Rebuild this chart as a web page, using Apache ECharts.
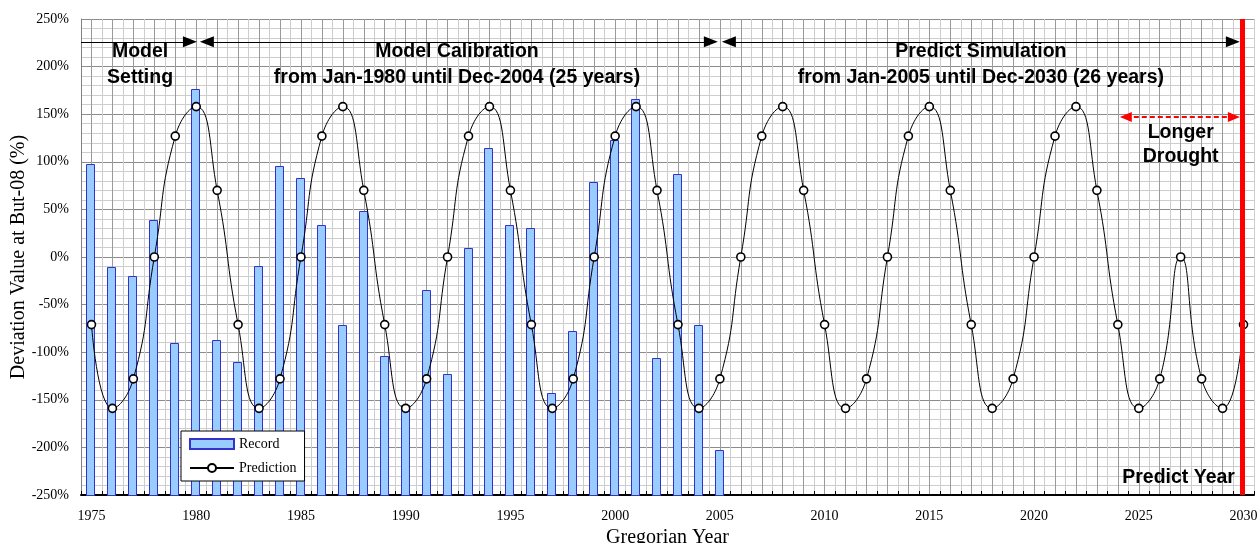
<!DOCTYPE html>
<html>
<head>
<meta charset="utf-8">
<script src="https://cdn.jsdelivr.net/npm/echarts@6/dist/echarts.min.js"></script>
<style>html,body{margin:0;padding:0;background:#fff}#c{width:1257px;height:543px}</style>
</head>
<body>
<div id="c"></div>
<script>
var years = ['1975','1976','1977','1978','1979','1980','1981','1982','1983','1984','1985','1986','1987','1988','1989','1990','1991','1992','1993','1994','1995','1996','1997','1998','1999','2000','2001','2002','2003','2004','2005','2006','2007','2008','2009','2010','2011','2012','2013','2014','2015','2016','2017','2018','2019','2020','2021','2022','2023','2024','2025','2026','2027','2028','2029','2030'];
var record = [98,-11,-20,39,-90,176,-87,-110,-9,96,83,34,-71,48,-104,-155,-35,-123,9,114,34,30,-143,-78,79,123,166,-106,87,-71,-203];
var prediction = [-71,-159,-128,0,127,158,70,-71,-159,-128,0,127,158,70,-71,-159,-128,0,127,158,70,-71,-159,-128,0,127,158,70,-71,-159,-128,0,127,158,70,-71,-159,-128,0,127,158,70,-71,-159,-128,0,127,158,70,-71,-159,-128,0,-128,-159,-71];
var yMin = -250, yMax = 250, yStep = 50;

var serif = 'Liberation Serif';
var sans = 'Liberation Sans';
var chart = echarts.init(document.getElementById('c'), null, {renderer:'canvas'});

function txt(name, x, y, text, lh){
  return {name:name, coord:[x,y], value:text, symbol:'circle', symbolSize:1,
    itemStyle:{color:'rgba(0,0,0,0)'},
    label:{show:true, position:'inside', formatter:text, color:'#000', fontFamily:sans, fontWeight:'bold', fontSize:19.5, lineHeight:lh||26, align:'center', verticalAlign:'middle'}};
}

var recordData = record.map(function(v, i){ return [i, v]; });

var option = {
  animation:false,
  backgroundColor:'#fff',
  grid:{left:81, right:3, top:19, bottom:48, containLabel:false, outerBoundsMode:'none'},
  legend:{
    data:[{name:'Record', icon:'rect'},{name:'Prediction'}], orient:'vertical', left:181, top:431,
    backgroundColor:'#fff', borderColor:'#000', borderWidth:1, borderRadius:0,
    padding:[6,8,6,8], itemGap:10, itemWidth:44, itemHeight:10,
    textStyle:{fontFamily:serif, fontSize:14, color:'#000'}
  },
  xAxis:[{
    type:'category', data:years, boundaryGap:true,
    axisLine:{onZero:false, lineStyle:{color:'#000', width:2}},
    axisTick:{show:true, inside:true, length:4, interval:0, lineStyle:{color:'#000'}},
    axisLabel:{interval:4, fontFamily:serif, fontSize:14, color:'#000', margin:14},
    splitLine:{show:false},
    name:'Gregorian Year', nameLocation:'middle', nameGap:33,
    nameTextStyle:{fontFamily:serif, fontSize:20, color:'#000'}
  },{
    type:'value', min:0, max:56, interval:1, position:'bottom',
    axisLine:{show:false, onZero:false}, axisTick:{show:false}, axisLabel:{show:false},
    splitLine:{show:true, lineStyle:{color:'#cdcdcd', width:1}},
    minorTick:{show:false, splitNumber:2},
    minorSplitLine:{show:true, lineStyle:{color:'#9a9a9a', width:1}}
  }],
  yAxis:[{
    type:'value', min:yMin, max:yMax, interval:yStep,
    axisLine:{show:true, onZero:false, lineStyle:{color:'#808080'}},
    axisTick:{show:false},
    axisLabel:{formatter:'{value}%', fontFamily:serif, fontSize:14, color:'#000', margin:12},
    splitLine:{show:true, lineStyle:{color:'#8c8c8c', width:1}},
    minorTick:{show:false, splitNumber:5},
    minorSplitLine:{show:true, lineStyle:{color:'#cdcdcd', width:1}},
    name:'Deviation Value at But-08 (%)', nameLocation:'middle', nameGap:52, nameMoveOverlap:false,
    nameTextStyle:{fontFamily:serif, fontSize:20, color:'#000'}
  }],
  series:[{
    name:'Record', type:'custom', xAxisIndex:0, yAxisIndex:0, data:recordData,
    encode:{x:0, y:1},
    itemStyle:{color:'#99ccff', borderColor:'#3333cc', borderWidth:1},
    renderItem:function(params, api){
      var idx = api.value(0), v = api.value(1);
      var top = api.coord([idx, v]);
      var base = api.coord([idx, yMin]);
      var w = 8;
      return {type:'rect', shape:{x:Math.round(top[0]-w/2-1)+0.5, y:Math.round(top[1])+0.5, width:w, height:Math.round(base[1]-top[1])},
        style:{fill:'#99ccff', stroke:'#3333cc', lineWidth:1}};
    },
    z:2
  },{
    name:'Prediction', type:'line', xAxisIndex:0, yAxisIndex:0, data:prediction,
    smooth:0.5, symbol:'circle', symbolSize:8, showAllSymbol:true,
    lineStyle:{color:'#000', width:1},
    itemStyle:{color:'#fff', borderColor:'#000', borderWidth:1.6},
    z:3
  },{
    name:'annot', type:'line', xAxisIndex:1, yAxisIndex:0, data:[], silent:true,
    markLine:{
      silent:true, animation:false, label:{show:false},
      data:[
        [{coord:[0,226], symbol:'none'},{coord:[5.2,226], symbol:'triangle', symbolSize:[11,14], lineStyle:{color:'#000',width:1.2,type:'solid'}}],
        [{coord:[6.01,226], symbol:'triangle', symbolSize:[11,14]},{coord:[30.07,226], symbol:'triangle', symbolSize:[11,14], lineStyle:{color:'#000',width:1.2,type:'solid'}}],
        [{coord:[30.93,226], symbol:'triangle', symbolSize:[11,14]},{coord:[54.99,226], symbol:'triangle', symbolSize:[11,14], lineStyle:{color:'#000',width:1.2,type:'solid'}}],
        [{coord:[49.88,147], symbol:'triangle', symbolSize:[10,12]},{coord:[55.04,147], symbol:'triangle', symbolSize:[10,12], lineStyle:{color:'#ff0000',width:2,type:[5,3]}, itemStyle:{color:'#ff0000'}}],
        [{coord:[55.42,-250], symbol:'none'},{coord:[55.42,250], symbol:'none', lineStyle:{color:'#ff0000',width:5,type:'solid'}}]
      ],
      lineStyle:{color:'#000', width:1.2, type:'solid'},
      itemStyle:{color:'#000'}
    },
    markPoint:{
      silent:true, animation:false,
      data:[
        txt('ms', 2.82, 202, 'Model\nSetting'),
        txt('mc', 17.95, 202, 'Model Calibration\nfrom Jan-1980 until Dec-2004 (25 years)'),
        txt('ps', 42.96, 202, 'Predict Simulation\nfrom Jan-2005 until Dec-2030 (26 years)'),
        txt('ld', 52.5, 118, 'Longer\nDrought', 24),
        txt('py', 52.4, -232, 'Predict Year')
      ]
    },
    z:5
  }]
};
chart.setOption(option);
</script>
</body>
</html>
